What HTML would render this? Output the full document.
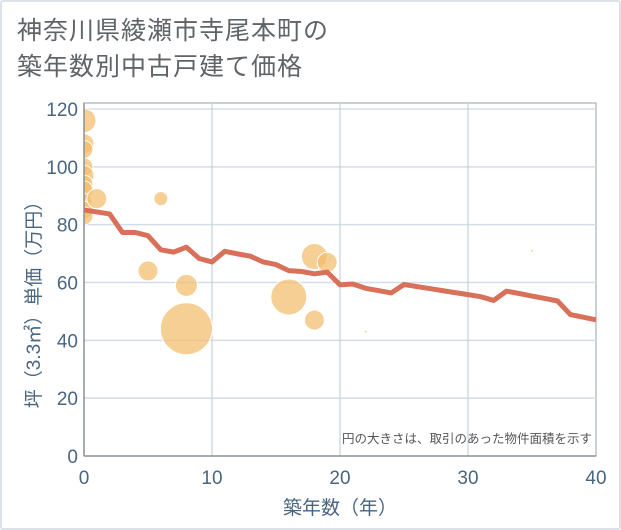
<!DOCTYPE html>
<html><head><meta charset="utf-8"><style>
body{margin:0;width:621px;height:530px;overflow:hidden;background:#fff;font-family:"Liberation Sans","Noto Sans CJK JP",sans-serif;}
#frame{position:absolute;left:0;top:0;width:617px;height:526px;border:2px solid #dde1e8;border-radius:3px;}
#title{position:absolute;left:17px;top:13px;font-size:25px;line-height:36px;color:#5f6468;letter-spacing:1px;}
</style></head><body>
<div id="frame"></div>
<div id="title">神奈川県綾瀬市寺尾本町の<br>築年数別中古戸建て価格</div>
<svg id="chart" width="621" height="530" style="position:absolute;left:0;top:0" font-family="Liberation Sans, Noto Sans CJK JP, sans-serif"><defs><clipPath id="plotclip"><rect x="84" y="103" width="512" height="353"/></clipPath></defs></svg>
<script>
const xTicks=[0,10,20,30,40];
const yTicks=[0,20,40,60,80,100,120];
const lineYears=[0,2,3,4,5,6,7,8,9,10,11,12,13,14,15,16,17,18,19,20,21,22,23,24,25,26,27,28,29,30,31,32,33,34,35,36,37,38,39,40];
const lineValues=[85.1,83.7,77.3,77.3,76.2,71.3,70.5,72.2,68.3,67.1,70.8,69.9,69.1,67.1,66.2,64.1,63.8,63.0,63.6,59.2,59.5,58.0,57.2,56.4,59.3,58.6,57.9,57.2,56.5,55.8,55.1,53.8,57.0,56.2,55.3,54.5,53.6,48.9,48.0,47.1];
const bubbleYears=[0,0,0,0,0,0,0,0,0,0,1,6,5,8,8,16,18,18,19,22,35];
const bubbleValues=[116,108,106,100,97,94,92,88,85,83,89,89,64,59,44,55,47,69,67,43,71];
const bubbleSizes=[12,10,9,9,10,9,9,8,9,9,10,7,10,11,26,18,10,13,10,1,1];
const X0=84,X1=596,Y0=456,Y1=109;
const sx=v=>X0+(v-0)/(40-0)*(X1-X0);
const sy=v=>Y0-(v-0)/(120-0)*(Y0-Y1);
const svg=document.getElementById('chart');
const NS='http://www.w3.org/2000/svg';
function mk(t,a,p){const e=document.createElementNS(NS,t);for(const k in a)e.setAttribute(k,a[k]);(p||svg).appendChild(e);return e;}
mk('rect',{x:X0,y:103,width:X1-X0,height:Y0-103,fill:'#fff',stroke:'#9aa0a6','stroke-width':1});
yTicks.forEach(v=>{
 if(v>0){const g=mk('line',{x1:X0,x2:X1,y1:sy(v),y2:sy(v),stroke:'#d3dde8','stroke-width':1.5});
 
 }
 const t=mk('text',{x:X0-6,y:sy(v)+7,'text-anchor':'end','font-size':19,fill:'#4a6580'});t.textContent=v;
 
 
});
xTicks.forEach(v=>{
 if(v>0&&v<40){const g=mk('line',{x1:sx(v),x2:sx(v),y1:103,y2:Y0,stroke:'#c6d2de','stroke-width':1.2});
 
 }
 const t=mk('text',{x:sx(v),y:Y0+28,'text-anchor':'middle','font-size':19,fill:'#4a6580'});t.textContent=v;
 
 
});
const gb=mk('g',{'clip-path':'url(#plotclip)'});
bubbleYears.forEach((yr,i)=>{
 const c=mk('circle',{cx:sx(yr),cy:sy(bubbleValues[i]),r:bubbleSizes[i],fill:'#f2bd6b','fill-opacity':0.72,stroke:'#fff','stroke-width':bubbleSizes[i]>2?1:0},gb);
 
 
});
mk('line',{x1:X0,x2:X0,y1:103,y2:Y0,stroke:'#8a9096','stroke-width':1.5});
mk('line',{x1:X0,x2:X1,y1:Y0,y2:Y0,stroke:'#8a9096','stroke-width':1.5});
const pts=lineYears.map((y,i)=>sx(y)+','+sy(lineValues[i])).join(' ');
const pl=mk('polyline',{points:pts,fill:'none',stroke:'#d9705a','stroke-width':5,'stroke-linejoin':'round'});


const note=mk('text',{x:592,y:443,'text-anchor':'end','font-size':12.5,fill:'#555'});note.textContent='円の大きさは、取引のあった物件面積を示す';


const xt=mk('text',{x:340,y:514,'text-anchor':'middle','font-size':19,fill:'#4a6580'});xt.textContent='築年数（年）';


const yt=mk('text',{x:0,y:0,'text-anchor':'middle','font-size':19,fill:'#4a6580',transform:'translate(40,300) rotate(-90)'});yt.textContent='坪（3.3㎡）単価（万円）';


</script>
</body></html>
